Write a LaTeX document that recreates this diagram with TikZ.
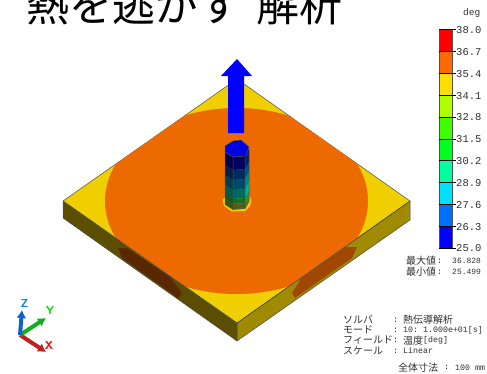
\documentclass[tikz,border=0pt]{standalone}
\usepackage{fontspec}
\setmainfont{Noto Sans CJK JP}
\setmonofont{Liberation Mono}
\newfontfamily\jpfont{Noto Sans CJK JP}
\definecolor{plateY}{HTML}{EFCF00}
\definecolor{plateO}{HTML}{EC6A00}
\definecolor{sideL}{HTML}{5C4E00}
\definecolor{sideR}{HTML}{A08A00}
\definecolor{patchL}{HTML}{5A2800}
\definecolor{patchR}{HTML}{A04800}
\definecolor{edgeG}{HTML}{505050}
\definecolor{annot}{HTML}{303030}
\definecolor{axZ}{HTML}{1060D0}
\definecolor{axY}{HTML}{10B020}
\definecolor{axX}{HTML}{C02020}
\usetikzlibrary{arrows.meta}
\tikzset{
  face/.style={draw=edgeG,line width=0.5pt,line join=round},
  tick/.style={draw=black,line width=0.5pt},
  barlabel/.style={inner sep=0pt,anchor=west,font=\ttfamily\fontsize{10.5}{12}\selectfont,text=annot},
  info/.style={inner sep=0pt,anchor=west,font=\jpfont\fontsize{10}{10}\selectfont,text=annot},
  infoval/.style={inner sep=0pt,anchor=west,font=\ttfamily\fontsize{8.3}{10}\selectfont,text=annot},
  axislabel/.style={inner sep=0pt,font=\sffamily\bfseries\fontsize{11.5}{11.5}\selectfont},
  axisarrow/.style={line width=4pt,-{Latex[length=8pt,width=10pt]}},
  titletext/.style={inner sep=0pt,anchor=base west,font=\jpfont\fontsize{43}{43}\selectfont,text=black}
}
\begin{document}
\begin{tikzpicture}[x=1pt,y=-1pt]
\useasboundingbox (0,0) rectangle (487,373);
\fill[white] (0,0) rectangle (487,373);
% title, cut by the top edge
\begin{scope}
\clip (0,0) rectangle (487,373);
\node[titletext] (title) at (26,21) {熱を逃がす};
\node[titletext] (title2) at (256,21) {解析};
\end{scope}
% plate sides
\fill[sideL,face] (63,201) -- (237,323) -- (237,341) -- (63,218) -- cycle;
\fill[sideR,face] (410,201) -- (237,323) -- (237,341) -- (410,220) -- cycle;
% patches
\fill[patchL] (118,248) -- (127,248) -- (170,277) -- (182,293) -- (178,298) -- (122,258) -- cycle;
\fill[patchR] (357,247) -- (345,247) -- (302,277) -- (292,293) -- (295,298) -- (352,258) -- cycle;
% top
\fill[plateY,face] (237,79) -- (410,201) -- (237,323) -- (63,201) -- cycle;
\begin{scope}
\clip (237,79) -- (410,201) -- (237,323) -- (63,201) -- cycle;
\fill[plateO] (236.5,201) ellipse [x radius=131.5,y radius=93];
\end{scope}
\draw[edgeG,line width=0.5pt] (63,201) -- (237,323) -- (410,201) (237,323) -- (237,341);
% halo at the foot of the column
\fill[plateY] (225,197) -- (222.5,200) -- (224,206) -- (232,211.5) -- (245,211) -- (250,206) -- (251.5,200) -- (249,196) -- cycle;
% column faces
\foreach \ya/\yb/\cl/\cm/\cr in {
  157/170/000048/000060/002068,
  170/180/002048/002a60/005078,
  180/190/004050/004a68/008880,
  190/199/005a50/006a60/00B090,
  199/204/0f5a20/107028/209048,
  204/209.5/404f10/506010/607018}{
  \definecolor{cL}{HTML}{\cl}\definecolor{cM}{HTML}{\cm}\definecolor{cR}{HTML}{\cr}
  \fill[cL] (225,\ya-5) -- (233,\ya) -- (233,\yb) -- (225,\yb-5) -- cycle;
  \fill[cM] (233,\ya) -- (245,\ya-1) -- (245,\yb-1) -- (233,\yb) -- cycle;
  \fill[cR] (245,\ya-1) -- (249,\ya-8) -- (249,\yb-8) -- (245,\yb-1) -- cycle;
}
\draw[edgeG,line width=0.5pt,line join=round] (225,152) -- (225,204.5) -- (233,209.5) -- (245,208.5) -- (249,201.5) -- (249,149) (233,157) -- (233,209.5) (245,156) -- (245,208.5);
\fill[blue!90!black,face] (225,146) -- (233,141) -- (241,140) -- (249,147) -- (246,156) -- (233,157) -- (225,152) -- cycle;
% blue arrow
\fill[blue] (228,133) -- (244,133) -- (244,76) -- (252,76) -- (237,59) -- (221,76) -- (228,76) -- cycle;
% colour bar
\foreach \i/\c in {0/FF0000,1/FF6A00,2/FFDD00,3/B0FF00,4/40FF00,5/00FF20,6/00FFA0,7/00E0FF,8/0070FF,9/0000FF}{
  \definecolor{bandc}{HTML}{\c}
  \fill[bandc] (439,29.5+21.85*\i) rectangle (452,29.5+21.85*\i+21.85);
}
\draw[edgeG,line width=0.5pt] (439,29.5) rectangle (452,248);
\foreach \i/\t in {0/38.0,1/36.7,2/35.4,3/34.1,4/32.8,5/31.5,6/30.2,7/28.9,8/27.6,9/26.3,10/25.0}{
  \draw[tick] (439,29.5+21.85*\i) -- (456,29.5+21.85*\i);
  \node[barlabel] (bar\i) at (456,30+21.85*\i) {\t};
}
\node[barlabel,font=\ttfamily\fontsize{9.5}{10}\selectfont] (unit) at (463,13) {deg};
\node[info] (maxl) at (406,261) {最大値};
\node[infoval] (maxc) at (437,261) {:};
\node[infoval] (maxv) at (452,261) {\fontsize{8}{10}\selectfont 36.828};
\node[info] (minl) at (406,272) {最小値};
\node[infoval] (minc) at (437,272) {:};
\node[infoval] (minv) at (452,272) {\fontsize{8}{10}\selectfont 25.499};
% info block
\node[info] (s1) at (343,320) {ソルバ};
\node[info] (s2) at (343,330) {モード};
\node[info] (s3) at (343,340.5) {フィールド};
\node[info] (s4) at (343,351) {スケール};
\foreach \n/\y in {1/320,2/330,3/340.5,4/351}{\node[infoval] (c\n) at (393,\y) {:};}
\node[info] (v1) at (403,320) {熱伝導解析};
\node[infoval] (v2) at (403,330) {10: 1.000e+01[s]};
\node[info] (v3) at (403,340.5) {温度};
\node[infoval] (v3b) at (423,340.5) {[deg]};
\node[infoval] (v4) at (403,351) {Linear};
\node[info] (v5) at (398,367.5) {全体寸法};
\node[infoval] (v5c) at (444,367.5) {:};
\node[infoval] (v5v) at (455,367.5) {100 mm};
% triad
\coordinate (o) at (20,335);
\coordinate (tz) at (22,310);
\coordinate (ty) at (46,318);
\coordinate (tx) at (46,352);
\draw[axisarrow,color=axX] (o) -- (tx);
\draw[axisarrow,color=axY] (o) -- (ty);
\draw[axisarrow,color=axZ] (o) -- (tz);
\node[axislabel,text=axZ!80!cyan] (lz) at (24.5,304) {Z};
\node[axislabel,text=green!90!black] (ly) at (50,311) {Y};
\node[axislabel,text=red] (lx) at (49,346) {X};
\end{tikzpicture}
\end{document}
